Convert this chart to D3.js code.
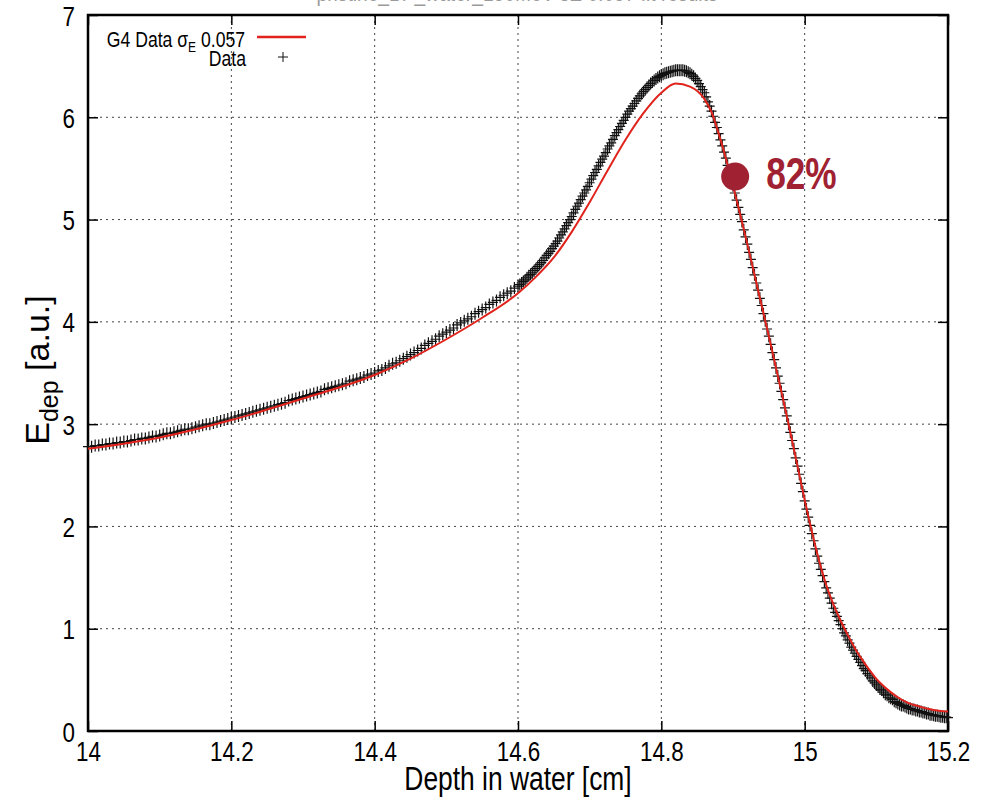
<!DOCTYPE html>
<html>
<head>
<meta charset="utf-8">
<script src="https://cdn.jsdelivr.net/npm/d3@7"></script>
<style>
  html, body { margin: 0; padding: 0; background: #fff; }
  svg { display: block; }
  text { font-family: "Liberation Sans", Arial, sans-serif; }
</style>
</head>
<body>
<div id="chart"></div>
<script>
/* measured data: E_dep in a.u., plateau part from 14.000 cm in 0.005 cm steps */
var dataCoarseStart = 14.0;
var dataCoarseStep = 0.005;
var dataCoarse = [
  2.78, 2.78, 2.79, 2.79, 2.80, 2.80, 2.81, 2.81, 2.82, 2.82,
  2.83, 2.83, 2.84, 2.85, 2.85, 2.86, 2.86, 2.87, 2.88, 2.88,
  2.89, 2.90, 2.91, 2.91, 2.92, 2.93, 2.94, 2.95, 2.95, 2.96,
  2.97, 2.98, 2.99, 3.00, 3.00, 3.01, 3.02, 3.03, 3.04, 3.05,
  3.06, 3.07, 3.08, 3.09, 3.10, 3.11, 3.12, 3.13, 3.14, 3.15,
  3.16, 3.17, 3.18, 3.19, 3.20, 3.21, 3.23, 3.24, 3.25, 3.26,
  3.27, 3.28, 3.29, 3.30, 3.31, 3.32, 3.34, 3.35, 3.36, 3.37,
  3.38, 3.39, 3.40, 3.42, 3.43, 3.44, 3.45, 3.46, 3.48, 3.49,
  3.50, 3.52, 3.53, 3.55, 3.57, 3.59, 3.60, 3.62, 3.64, 3.66,
  3.68, 3.70, 3.72, 3.74, 3.77, 3.79, 3.81, 3.83, 3.86, 3.88,
  3.90, 3.92, 3.94, 3.97, 3.99, 4.01, 4.03, 4.05, 4.08, 4.10,
  4.12, 4.14, 4.17, 4.19, 4.21, 4.24, 4.26, 4.28, 4.30, 4.33
];

/* peak and fall-off from 14.60 cm in 0.0025 cm steps */
var dataFineStart = 14.6;
var dataFineStep = 0.0025;
var dataFine = [
  4.35, 4.365, 4.38, 4.395, 4.41, 4.43, 4.45, 4.465, 4.48, 4.50,
  4.52, 4.54, 4.56, 4.58, 4.60, 4.625, 4.65, 4.67, 4.69, 4.715,
  4.74, 4.765, 4.79, 4.82, 4.85, 4.88, 4.91, 4.94, 4.97, 5.00,
  5.03, 5.065, 5.10, 5.13, 5.16, 5.195, 5.23, 5.26, 5.29, 5.325,
  5.36, 5.395, 5.43, 5.46, 5.49, 5.525, 5.56, 5.59, 5.62, 5.655,
  5.69, 5.72, 5.75, 5.785, 5.82, 5.85, 5.88, 5.91, 5.94, 5.97,
  6.00, 6.03, 6.06, 6.085, 6.11, 6.135, 6.16, 6.185, 6.21, 6.23,
  6.25, 6.27, 6.29, 6.31, 6.33, 6.345, 6.36, 6.375, 6.39, 6.40,
  6.41, 6.42, 6.43, 6.435, 6.44, 6.445, 6.45, 6.455, 6.46, 6.46,
  6.46, 6.46, 6.46, 6.455, 6.45, 6.44, 6.43, 6.415, 6.40, 6.38,
  6.36, 6.33, 6.30, 6.27,
  6.24, 6.20, 6.15, 6.11,
  6.06, 6.01, 5.95, 5.90,
  5.84, 5.78, 5.72, 5.66,
  5.60, 5.53, 5.47, 5.40,
  5.33, 5.26, 5.19, 5.12,
  5.05, 4.98, 4.90, 4.83,
  4.76, 4.68, 4.61, 4.53,
  4.46, 4.38, 4.31, 4.23,
  4.16, 4.08, 4.01, 3.93,
  3.86, 3.78, 3.70, 3.63,
  3.55, 3.47, 3.40, 3.32,
  3.24, 3.16, 3.08, 3.00,
  2.92, 2.84, 2.76, 2.67,
  2.59, 2.51, 2.42, 2.34,
  2.25, 2.17, 2.09, 2.01,
  1.93, 1.86, 1.78, 1.71,
  1.64, 1.58, 1.52, 1.46,
  1.40, 1.35, 1.30, 1.25,
  1.20, 1.16, 1.12, 1.08,
  1.04, 1.00, 0.96, 0.93,
  0.89, 0.86, 0.82, 0.79,
  0.76, 0.73, 0.70, 0.67,
  0.64, 0.61, 0.59, 0.56,
  0.54, 0.52, 0.49, 0.47,
  0.45, 0.43, 0.41, 0.40,
  0.38, 0.36, 0.35, 0.33,
  0.32, 0.31, 0.29, 0.28,
  0.27, 0.26, 0.25, 0.25,
  0.24, 0.23, 0.22, 0.22,
  0.21, 0.21, 0.20, 0.20,
  0.19, 0.19, 0.18, 0.18,
  0.17, 0.17, 0.16, 0.16,
  0.155, 0.15, 0.15, 0.145,
  0.14, 0.14, 0.135, 0.135,
  0.13
];

/* G4 simulation curve */
var g4Depth = [14.0, 14.1, 14.2, 14.3, 14.4, 14.45, 14.5, 14.55, 14.6, 14.625, 14.65, 14.675,
  14.7, 14.725, 14.75, 14.775, 14.8, 14.82, 14.84, 14.86, 14.87, 14.88, 14.89, 14.9,
  14.91, 14.92, 14.93, 14.94, 14.95, 14.96, 14.97, 14.98, 14.99, 15.0, 15.01, 15.02,
  15.03, 15.04, 15.05, 15.06, 15.07, 15.08, 15.09, 15.1, 15.11, 15.12, 15.13, 15.14,
  15.15, 15.16, 15.17, 15.18, 15.19, 15.2];
var g4Edep = [2.76, 2.87, 3.04, 3.25, 3.48, 3.64, 3.83, 4.04, 4.28, 4.44, 4.63, 4.88,
  5.17, 5.48, 5.78, 6.04, 6.24, 6.33, 6.30, 6.18, 6.05, 5.84, 5.60, 5.33,
  5.05, 4.76, 4.46, 4.16, 3.86, 3.55, 3.24, 2.92, 2.59, 2.26, 1.95, 1.67,
  1.43, 1.24, 1.08, 0.94, 0.81, 0.70, 0.60, 0.51, 0.44, 0.38, 0.33, 0.29,
  0.26, 0.24, 0.22, 0.205, 0.195, 0.19];

var xTicks = [14, 14.2, 14.4, 14.6, 14.8, 15, 15.2];
var xTickLabels = ["14", "14.2", "14.4", "14.6", "14.8", "15", "15.2"];
var yTicks = [0, 1, 2, 3, 4, 5, 6, 7];
var yTickLabels = ["0", "1", "2", "3", "4", "5", "6", "7"];

/* 82% point on the distal edge */
var markPoint = {depth: 14.903, edep: 5.42, label: "82%"};

var width = 996, height = 798;
var margin = {left: 88, right: 48, top: 15, bottom: 67};
var plotW = width - margin.left - margin.right;
var plotH = height - margin.top - margin.bottom;
var squeeze = 0.8;   /* the gnuplot text is narrow: squeeze it horizontally */

var x = d3.scaleLinear().domain([14, 15.2]).range([margin.left, margin.left + plotW]);
var y = d3.scaleLinear().domain([0, 7]).range([margin.top + plotH, margin.top]);

var svg = d3.select("#chart").append("svg")
    .attr("width", width)
    .attr("height", height);

/* narrow text placed at (px, py) */
function narrowText(parent, px, py) {
  return parent.append("text")
      .attr("transform", "translate(" + px + "," + py + ") scale(" + squeeze + ",1)");
}

/* cut-off title at the very top */
narrowText(svg, 517, 1)
    .attr("text-anchor", "middle")
    .attr("font-size", 24)
    .attr("fill", "#9a9a9a")
    .text("pristine_BP_water_150MeV  sE 0.057 fit results");

/* dotted grid */
var grid = svg.append("g");
grid.selectAll("line.gx")
    .data(xTicks.slice(1, -1))
    .enter().append("line")
    .attr("x1", function (d) { return x(d); })
    .attr("x2", function (d) { return x(d); })
    .attr("y1", y(7))
    .attr("y2", y(0))
    .attr("stroke", "#444")
    .attr("stroke-width", 1)
    .attr("stroke-dasharray", "2,4");
grid.selectAll("line.gy")
    .data(yTicks.slice(1, -1))
    .enter().append("line")
    .attr("x1", x(14))
    .attr("x2", x(15.2))
    .attr("y1", function (d) { return y(d); })
    .attr("y2", function (d) { return y(d); })
    .attr("stroke", "#444")
    .attr("stroke-width", 1)
    .attr("stroke-dasharray", "2,4");

/* axes with inward ticks on all four sides */
function styleAxis(g) {
  g.select(".domain").remove();
  g.selectAll(".tick line").attr("stroke", "#000").attr("stroke-width", 1.5);
}
var fmtX = function (d, i) { return xTickLabels[i]; };
var fmtY = function (d, i) { return yTickLabels[i]; };

var axB = svg.append("g")
    .attr("transform", "translate(0," + y(0) + ")")
    .call(d3.axisBottom(x).tickValues(xTicks).tickFormat(fmtX).tickSizeInner(-10));
styleAxis(axB);
axB.selectAll("text")
    .attr("font-family", "'Liberation Sans', Arial, sans-serif")
    .attr("font-size", 28).attr("fill", "#000")
    .attr("transform", "scale(" + squeeze + ",1)")
    .attr("y", 30).attr("dy", 0);

svg.append("g")
    .attr("transform", "translate(0," + y(7) + ")")
    .call(d3.axisTop(x).tickValues(xTicks).tickFormat("").tickSizeInner(-10))
    .call(styleAxis);

var axL = svg.append("g")
    .attr("transform", "translate(" + x(14) + ",0)")
    .call(d3.axisLeft(y).tickValues(yTicks).tickFormat(fmtY).tickSizeInner(-10));
styleAxis(axL);
axL.selectAll("text")
    .attr("font-family", "'Liberation Sans', Arial, sans-serif")
    .attr("font-size", 28).attr("fill", "#000")
    .attr("transform", "scale(" + squeeze + ",1)")
    .attr("x", -13 / squeeze).attr("dy", "0.36em");

svg.append("g")
    .attr("transform", "translate(" + x(15.2) + ",0)")
    .call(d3.axisRight(y).tickValues(yTicks).tickFormat("").tickSizeInner(-10))
    .call(styleAxis);

/* plot frame */
svg.append("rect")
    .attr("x", x(14))
    .attr("y", y(7))
    .attr("width", x(15.2) - x(14))
    .attr("height", y(0) - y(7))
    .attr("fill", "none")
    .attr("stroke", "#000")
    .attr("stroke-width", 2.5);

/* data points */
var points = dataCoarse.map(function (v, i) {
  return {d: dataCoarseStart + i * dataCoarseStep, e: v};
}).concat(dataFine.map(function (v, i) {
  return {d: dataFineStart + i * dataFineStep, e: v};
}));

var plus = "M-5,0H5M0,-6V6";
svg.append("g").selectAll("path")
    .data(points)
    .enter().append("path")
    .attr("d", plus)
    .attr("transform", function (p) { return "translate(" + x(p.d) + "," + y(p.e) + ")"; })
    .attr("fill", "none")
    .attr("stroke", "#111")
    .attr("stroke-width", 1.2);

/* G4 line */
var line = d3.line()
    .x(function (d, i) { return x(g4Depth[i]); })
    .y(function (d) { return y(d); })
    .curve(d3.curveMonotoneX);
svg.append("path")
    .attr("d", line(g4Edep))
    .attr("fill", "none")
    .attr("stroke", "#e0231c")
    .attr("stroke-width", 2);

/* legend */
var l1 = narrowText(svg, 245, 47)
    .attr("text-anchor", "end")
    .attr("font-size", 22)
    .attr("fill", "#000");
l1.append("tspan").text("G4 Data \u03c3");
l1.append("tspan").attr("font-size", 15).attr("dy", 5).text("E");
l1.append("tspan").attr("dy", -5).text(" 0.057");
svg.append("line")
    .attr("x1", 257).attr("x2", 306).attr("y1", 37).attr("y2", 37)
    .attr("stroke", "#e0231c").attr("stroke-width", 2.5);
narrowText(svg, 246, 66)
    .attr("text-anchor", "end")
    .attr("font-size", 22)
    .attr("fill", "#000")
    .text("Data");
svg.append("path")
    .attr("d", "M-5,0H5M0,-5V5")
    .attr("transform", "translate(283,57)")
    .attr("fill", "none")
    .attr("stroke", "#111")
    .attr("stroke-width", 1);

/* axis titles */
narrowText(svg, 518, 790)
    .attr("text-anchor", "middle")
    .attr("font-size", 33)
    .attr("fill", "#000")
    .text("Depth in water [cm]");

var yl = svg.append("text")
    .attr("transform", "translate(49,370) rotate(-90)")
    .attr("text-anchor", "middle")
    .attr("font-size", 34)
    .attr("fill", "#000");
yl.append("tspan").text("E");
yl.append("tspan").attr("font-size", 25).attr("dy", 9).text("dep");
yl.append("tspan").attr("dy", -9).text(" [a.u.]");

/* 82% annotation */
svg.append("circle")
    .attr("cx", x(markPoint.depth))
    .attr("cy", y(markPoint.edep))
    .attr("r", 14)
    .attr("fill", "#a02232");
narrowText(svg, x(markPoint.depth) + 31, y(markPoint.edep) + 12)
    .attr("font-size", 44)
    .attr("font-weight", "bold")
    .attr("fill", "#a02232")
    .text(markPoint.label);
</script>
</body>
</html>
